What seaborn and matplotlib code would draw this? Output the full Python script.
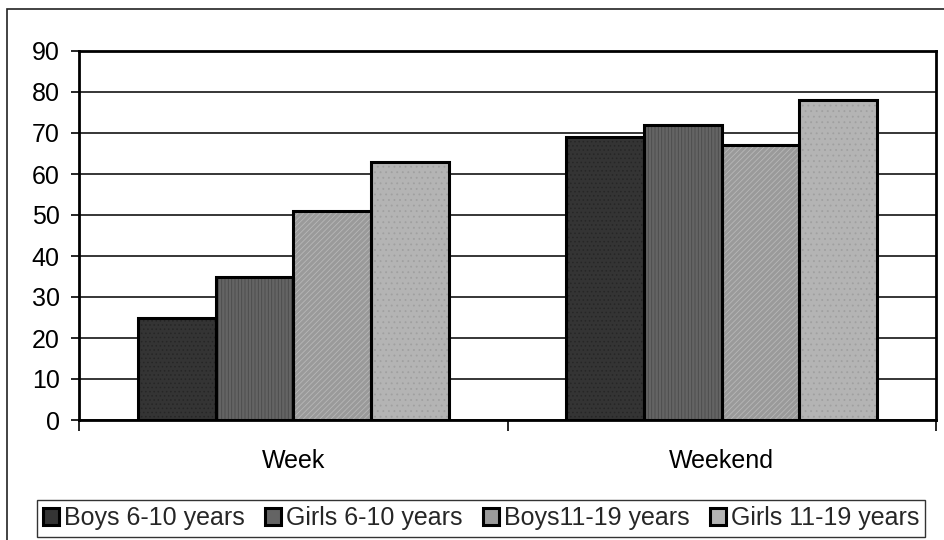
import matplotlib
matplotlib.use("Agg")
import matplotlib.pyplot as plt
from matplotlib.patches import Rectangle, Patch
import seaborn as sns
import pandas as pd

periods = ["Week", "Weekend"]
groups = ["Boys 6-10 years", "Girls 6-10 years", "Boys11-19 years", "Girls 11-19 years"]
boys_6_10 = [25, 69]
girls_6_10 = [35, 72]
boys_11_19 = [51, 67]
girls_11_19 = [63, 78]
y_ticks = [0, 10, 20, 30, 40, 50, 60, 70, 80, 90]

fills = ["#343434", "#646464", "#9a9a9a", "#b4b4b4"]
hatch_colors = ["#262626", "#4a4a4a", "#b8b8b8", "#a0a0a0"]
hatches = ["....", "|||||", "//////", "..."]

rows = []
for g, vals in zip(groups, [boys_6_10, girls_6_10, boys_11_19, girls_11_19]):
    for p, v in zip(periods, vals):
        rows.append({"period": p, "group": g, "value": v})
df = pd.DataFrame(rows)

sns.set_theme(style="white")
plt.rcParams["font.family"] = ["Liberation Sans", "DejaVu Sans"]
plt.rcParams["hatch.linewidth"] = 0.6

fig = plt.figure(figsize=(9.44, 5.4), dpi=100)
ax = fig.add_axes([79 / 944, 1 - 420 / 540, (936 - 79) / 944, (420 - 51) / 540])

sns.barplot(data=df, x="period", y="value", hue="group", order=periods,
            hue_order=groups, palette=fills, width=0.725, ax=ax,
            legend=False, saturation=1, zorder=3)

# pattern fill on each bar, then a solid black outline on top
for i, cont in enumerate(ax.containers):
    for p in cont:
        p.set_hatch(hatches[i])
        p.set_edgecolor(hatch_colors[i])
        p.set_linewidth(0)
        ax.add_patch(Rectangle(p.get_xy(), p.get_width(), p.get_height(),
                               fill=False, ec="black", lw=2.2, zorder=4))

ax.set_ylim(0, 90)
ax.set_xlim(-0.5, 1.5)
ax.set_yticks(y_ticks)
ax.yaxis.grid(True, color="black", lw=1.1, zorder=0)
ax.xaxis.grid(False)
ax.set_xlabel("")
ax.set_ylabel("")

ax.tick_params(axis="y", which="major", left=True, length=6, width=1.2,
               color="black", labelsize=18, pad=8, labelcolor="black")
ax.tick_params(axis="x", which="major", bottom=False, labelsize=18,
               pad=15, labelcolor="black")
ax.set_xticks([-0.5, 0.5, 1.5], minor=True)
ax.tick_params(axis="x", which="minor", bottom=True, length=8, width=1.2,
               color="black")

for s in ax.spines.values():
    s.set_visible(True)
    s.set_color("black")
    s.set_linewidth(2)

# legend row
handles = [Patch(facecolor=c, edgecolor="black", lw=2.2) for c in fills]
fig.legend(handles, groups, loc="center", bbox_to_anchor=(481 / 944, 1 - 518.5 / 540),
           ncol=4, frameon=True, fancybox=False, edgecolor="black",
           fontsize=18, handlelength=0.65, handleheight=0.65,
           handletextpad=0.2, columnspacing=0.8, borderpad=0.25,
           borderaxespad=0)
fig.legends[0].get_frame().set_linewidth(1)

# chart area border
fig.add_artist(Rectangle((7 / 944, -0.1), 1.2, 1 - 9 / 540 + 0.1,
                         transform=fig.transFigure, fill=False,
                         ec="#222222", lw=1.2))

fig.savefig("out.png", dpi=100, facecolor="white")
